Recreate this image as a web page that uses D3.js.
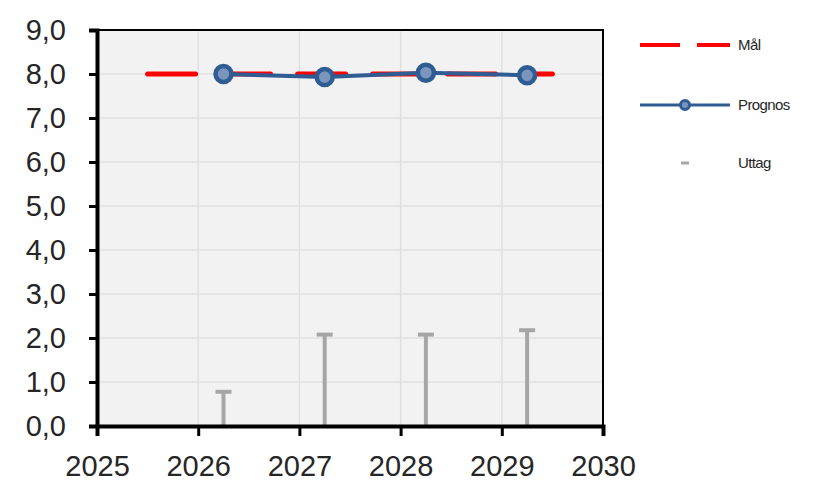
<!DOCTYPE html>
<html>
<head>
<meta charset="utf-8">
<script src="https://cdn.jsdelivr.net/npm/d3@7"></script>
<style>
    body { margin: 0; background: #fff; }
    text { font-family: "Liberation Sans", Arial, sans-serif; }
</style>
</head>
<body>
<svg id="chart" width="814" height="484"></svg>
<script>
// data
var yearTicks = [2025, 2026, 2027, 2028, 2029, 2030];
var valueTicks = [0, 1, 2, 3, 4, 5, 6, 7, 8, 9];

var malYears = [2025.5, 2029.5];
var malValues = [8.0, 8.0];

var prognosYears = [2026.25, 2027.25, 2028.25, 2029.25];
var prognosValues = [8.0, 7.93, 8.03, 7.97];

var uttagYears = [2026.25, 2027.25, 2028.25, 2029.25];
var uttagValues = [0.8, 2.1, 2.1, 2.2];

var legendLabels = ['Mål', 'Prognos', 'Uttag'];

var plotL = 97, plotR = 603, plotT = 30, plotB = 426;
var blue = '#2f5d93';
var red = '#ff0000';
var grey = '#a6a6a6';

var svg = d3.select('#chart');

var x = d3.scaleLinear().domain([2025, 2030]).range([plotL, plotR]);
var y = d3.scaleLinear().domain([0, 9]).range([plotB, plotT]);

function fmt(v) {
    return v.toFixed(1).replace('.', ',');
}

// plot background
svg.append('rect')
    .attr('x', plotL)
    .attr('y', plotT)
    .attr('width', plotR - plotL)
    .attr('height', plotB - plotT)
    .attr('fill', '#f2f2f2');

// grid
svg.append('g')
    .selectAll('line')
    .data(valueTicks.slice(1, -1))
    .join('line')
    .attr('x1', plotL)
    .attr('x2', plotR)
    .attr('y1', d => y(d))
    .attr('y2', d => y(d))
    .attr('stroke', '#e0e0e0')
    .attr('stroke-width', 1.5);

svg.append('g')
    .selectAll('line')
    .data(yearTicks.slice(1, -1))
    .join('line')
    .attr('x1', d => x(d))
    .attr('x2', d => x(d))
    .attr('y1', plotT)
    .attr('y2', plotB)
    .attr('stroke', '#e0e0e0')
    .attr('stroke-width', 1.5);

// Uttag stems with cap
var uttag = uttagYears.map((yr, i) => ({ year: yr, value: uttagValues[i] }));

svg.append('g')
    .selectAll('line')
    .data(uttag)
    .join('line')
    .attr('x1', d => x(d.year))
    .attr('x2', d => x(d.year))
    .attr('y1', y(0))
    .attr('y2', d => y(d.value))
    .attr('stroke', grey)
    .attr('stroke-width', 4);

svg.append('g')
    .selectAll('line')
    .data(uttag)
    .join('line')
    .attr('x1', d => x(d.year) - 8)
    .attr('x2', d => x(d.year) + 8)
    .attr('y1', d => y(d.value) + 1)
    .attr('y2', d => y(d.value) + 1)
    .attr('stroke', grey)
    .attr('stroke-width', 4);

// Mål dashed line
var mal = malYears.map((yr, i) => ({ year: yr, value: malValues[i] }));
var line = d3.line().x(d => x(d.year)).y(d => y(d.value));

svg.append('path')
    .datum(mal)
    .attr('d', line)
    .attr('fill', 'none')
    .attr('stroke', red)
    .attr('stroke-width', 5)
    .attr('stroke-dasharray', '48,27')
    .attr('stroke-linecap', 'round');

// Prognos line and markers
var prognos = prognosYears.map((yr, i) => ({ year: yr, value: prognosValues[i] }));

svg.append('path')
    .datum(prognos)
    .attr('d', line)
    .attr('fill', 'none')
    .attr('stroke', blue)
    .attr('stroke-width', 4);

svg.append('g')
    .selectAll('circle')
    .data(prognos)
    .join('circle')
    .attr('cx', d => x(d.year))
    .attr('cy', d => y(d.value))
    .attr('r', 8)
    .attr('fill', '#7a96bd')
    .attr('stroke', blue)
    .attr('stroke-width', 4.5);

// frame
svg.append('rect')
    .attr('x', plotL)
    .attr('y', plotT)
    .attr('width', plotR - plotL)
    .attr('height', plotB - plotT)
    .attr('fill', 'none')
    .attr('stroke', '#000')
    .attr('stroke-width', 2);

// axes
var yAxis = d3.axisLeft(y)
    .tickValues(valueTicks)
    .tickFormat(fmt)
    .tickSize(8)
    .tickPadding(23);

var yG = svg.append('g')
    .attr('transform', 'translate(' + plotL + ',0)')
    .call(yAxis);

var xAxis = d3.axisBottom(x)
    .tickValues(yearTicks)
    .tickFormat(d3.format('d'))
    .tickSize(10)
    .tickPadding(19);

var xG = svg.append('g')
    .attr('transform', 'translate(0,' + plotB + ')')
    .call(xAxis);

[yG, xG].forEach(g => {
    g.select('.domain').attr('stroke', '#000').attr('stroke-width', 4);
    g.selectAll('.tick line').attr('stroke', '#000').attr('stroke-width', 3);
    g.selectAll('.tick text')
        .attr('fill', '#262626')
        .style('font-family', '"Liberation Sans", Arial, sans-serif');
});
yG.selectAll('.tick text').attr('font-size', 29);
xG.selectAll('.tick text').attr('font-size', 29);

// legend
var legend = svg.append('g');
var lx = 640, lw = 90;
var rows = [45, 105, 163];

legend.append('line')
    .attr('x1', lx).attr('x2', lx + lw)
    .attr('y1', rows[0]).attr('y2', rows[0])
    .attr('stroke', red)
    .attr('stroke-width', 4)
    .attr('stroke-dasharray', '40,17');

legend.append('line')
    .attr('x1', lx).attr('x2', lx + lw)
    .attr('y1', rows[1]).attr('y2', rows[1])
    .attr('stroke', blue)
    .attr('stroke-width', 3);

legend.append('circle')
    .attr('cx', lx + lw / 2)
    .attr('cy', rows[1])
    .attr('r', 4.5)
    .attr('fill', '#7a96bd')
    .attr('stroke', blue)
    .attr('stroke-width', 3);

legend.append('line')
    .attr('x1', lx + lw / 2 - 4).attr('x2', lx + lw / 2 + 4)
    .attr('y1', rows[2]).attr('y2', rows[2])
    .attr('stroke', grey)
    .attr('stroke-width', 3);

legend.selectAll('text')
    .data(legendLabels)
    .join('text')
    .attr('x', lx + lw + 8)
    .attr('y', (d, i) => rows[i])
    .attr('dy', '0.35em')
    .attr('font-size', 15)
    .attr('fill', '#262626')
    .attr('letter-spacing', -0.6)
    .text(d => d);
</script>
</body>
</html>
